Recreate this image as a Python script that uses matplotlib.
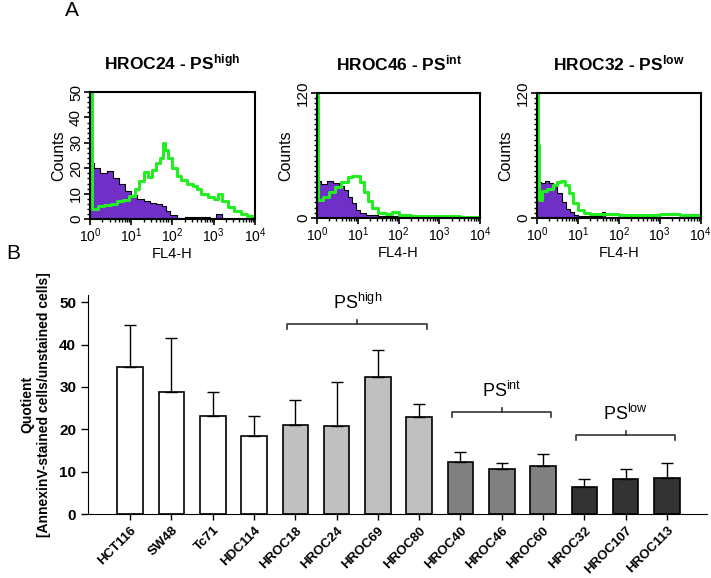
import numpy as np
import matplotlib
matplotlib.use("Agg")
import matplotlib.pyplot as plt
from matplotlib.ticker import LogLocator, MultipleLocator, NullFormatter

plt.rcParams['font.family'] = ['Liberation Sans', 'DejaVu Sans']
plt.rcParams['mathtext.fontset'] = 'custom'
plt.rcParams['mathtext.rm'] = 'Liberation Sans'
plt.rcParams['mathtext.bf'] = 'Liberation Sans:bold'
plt.rcParams['mathtext.it'] = 'Liberation Sans'

# ---- panel A: flow histograms (x in log10 decades, counts) ----
titles = [r'HROC24 - PS$^{\mathbf{high}}$', r'HROC46 - PS$^{\mathbf{int}}$', r'HROC32 - PS$^{\mathbf{low}}$']
ymax_hist = [50, 120, 120]

purple1_x = [0, 0.1, 0.25, 0.4, 0.55, 0.7, 0.85, 1.0, 1.15, 1.3, 1.45, 1.6, 1.75, 1.85, 1.95, 2.1, 2.3, 2.9, 3.05, 3.2]
purple1_y = [22, 20, 18, 19, 16, 14, 11, 9.5, 8, 7, 6.5, 6, 5, 3, 1.5, 0.5, 1, 0, 2, 0]
green1_x = [0, 0.04, 0.2, 0.35, 0.5, 0.65, 0.8, 0.95, 1.1, 1.2, 1.3, 1.4, 1.5, 1.6, 1.7, 1.76, 1.82, 1.9, 2.0,
            2.1, 2.2, 2.35, 2.5, 2.6, 2.7, 2.85, 3.0, 3.1, 3.2, 3.35, 3.5, 3.65, 3.8, 3.95, 4.0]
green1_y = [55, 4, 5, 5.5, 6, 7, 7.5, 9, 12, 15, 18.5, 16.5, 19.5, 22, 24, 30, 27, 24, 20,
            17, 15.5, 14, 13, 12, 10, 8.5, 8, 9.8, 7, 4.7, 3, 2, 1.2, 0.5, 0.5]

purple2_x = [0, 0.1, 0.25, 0.4, 0.55, 0.65, 0.75, 0.85, 0.95, 1.05, 1.2, 1.5, 1.8, 2.0, 2.1]
purple2_y = [36, 33, 36, 34, 31, 27, 20, 14, 8, 5, 3, 2, 1.5, 0.5, 0]
green2_x = [0, 0.03, 0.15, 0.3, 0.45, 0.6, 0.75, 0.85, 0.95, 1.05, 1.15, 1.25, 1.35, 1.5, 1.7,
            1.85, 2.0, 2.3, 2.6, 3.0, 3.5, 4.0]
green2_y = [125, 17, 20, 25, 30, 35, 39, 40, 40, 35, 25, 16, 10, 5, 4, 6, 3, 2, 2, 1.5, 1, 1]

purple3_x = [0, 0.1, 0.2, 0.3, 0.4, 0.5, 0.6, 0.7, 0.8, 0.9, 1.0, 1.6, 1.67, 1.75]
purple3_y = [35, 34, 36, 34, 31, 24, 15, 9, 6, 3, 1.5, 6, 0.5, 0]
green3_x = [0, 0.03, 0.06, 0.12, 0.25, 0.4, 0.5, 0.58, 0.68, 0.78, 0.88, 1.0, 1.15, 1.3, 1.6,
            2.0, 2.5, 3.0, 3.5, 4.0]
green3_y = [125, 70, 17, 26, 28, 32, 35, 36, 32, 24, 14, 8, 5, 4, 3.5, 3, 3, 3.5, 3, 3]

hist_data = [(purple1_x, purple1_y, green1_x, green1_y),
             (purple2_x, purple2_y, green2_x, green2_y),
             (purple3_x, purple3_y, green3_x, green3_y)]

# ---- panel B: bar chart ----
cell_lines = ['HCT116', 'SW48', 'Tc71', 'HDC114', 'HROC18', 'HROC24', 'HROC69', 'HROC80',
              'HROC40', 'HROC46', 'HROC60', 'HROC32', 'HROC107', 'HROC113']
quotient = [34.7, 28.8, 23.1, 18.4, 21.0, 20.7, 32.3, 22.9, 12.3, 10.6, 11.3, 6.4, 8.2, 8.5]
err_top = [44.6, 41.5, 28.8, 23.1, 26.9, 31.2, 38.7, 25.9, 14.6, 12.0, 14.1, 8.2, 10.6, 12.0]
groups = ['ref', 'ref', 'ref', 'ref', 'high', 'high', 'high', 'high',
          'int', 'int', 'int', 'low', 'low', 'low']
group_colors = {'ref': 'white', 'high': '#c0c0c0', 'int': '#808080', 'low': '#333333'}

# brackets: first bar, last bar, height, label
brackets = [(4, 7, 44.8, r'PS$^{\mathrm{high}}$'),
            (8, 10, 24.0, r'PS$^{\mathrm{int}}$'),
            (11, 13, 18.6, r'PS$^{\mathrm{low}}$')]

fig = plt.figure(figsize=(7.11, 5.78), dpi=100)

hist_pos = [[0.1266, 0.621, 0.232, 0.2197],
            [0.4459, 0.6228, 0.2293, 0.2163],
            [0.7553, 0.6228, 0.2300, 0.2163]]

for i in range(3):
    ax = fig.add_axes(hist_pos[i])
    px, py, gx, gy = hist_data[i]
    px = 10 ** np.array(px)
    gx = 10 ** np.array(gx)
    ax.fill_between(px, py, step='post', color='#7030c8', lw=0)
    ax.step(px, py, where='post', color='black', lw=0.8)
    ax.step(gx, gy, where='post', color='#22ee22', lw=2.2)
    ax.set_xscale('log')
    ax.set_xlim(1, 1e4)
    ax.set_ylim(0, ymax_hist[i])
    ax.xaxis.set_major_locator(LogLocator(base=10, numticks=10))
    ax.xaxis.set_minor_locator(LogLocator(base=10, subs=np.arange(2, 10), numticks=10))
    ax.xaxis.set_minor_formatter(NullFormatter())
    if ymax_hist[i] == 50:
        ax.set_yticks([0, 10, 20, 30, 40, 50])
        ax.yaxis.set_minor_locator(MultipleLocator(2))
    else:
        ax.set_yticks([0, 120])
        ax.yaxis.set_minor_locator(MultipleLocator(5))
    ax.tick_params(which='major', direction='out', length=4, width=1.2, labelsize=10, pad=1)
    ax.tick_params(which='minor', direction='out', length=2.5, width=1)
    for lab in ax.get_yticklabels():
        lab.set_rotation(90)
        lab.set_va('center')
        lab.set_fontsize(11)
    for sp in ax.spines.values():
        sp.set_linewidth(1.5)
    ax.set_xlabel('FL4-H', fontsize=10.5, labelpad=2)
    ax.set_ylabel('Counts', fontsize=11.5, labelpad=2)
    ax.set_title(titles[i], fontsize=12.5, fontweight='bold', pad=16)

fig.text(0.101, 0.998, 'A', fontsize=15, va='top', ha='center')
fig.text(0.018, 0.562, 'B', fontsize=15, va='center', ha='center')

ax = fig.add_axes([0.1238, 0.1107, 0.8706, 0.3789])
x = np.arange(len(cell_lines))
colors = [group_colors[g] for g in groups]
err_up = np.array(err_top) - np.array(quotient)
ax.bar(x, quotient, width=0.62, color=colors, edgecolor='black', linewidth=1.2,
       yerr=[np.zeros(len(x)), err_up], error_kw=dict(ecolor='black', elinewidth=1, capsize=4, capthick=1))
ax.set_xlim(-1.02, 13.97)
ax.set_ylim(0, 51.7)
ax.set_yticks([0, 10, 20, 30, 40, 50])
ax.set_xticks(x)
ax.set_xticklabels(cell_lines, rotation=45, ha='right', rotation_mode='anchor', fontweight='bold', fontsize=9.5)
for lab in ax.get_yticklabels():
    lab.set_fontweight('bold')
ax.tick_params(axis='y', direction='out', length=5, width=1, labelsize=11)
ax.tick_params(axis='x', direction='out', length=4, width=1)
ax.spines['top'].set_visible(False)
ax.spines['right'].set_visible(False)
ax.set_ylabel('Quotient\n[AnnexinV-stained cells/unstained cells]', fontsize=10, fontweight='bold', labelpad=6)

for b0, b1, h, label in brackets:
    xl = b0 - 0.2
    xr = b1 + 0.2
    xc = (xl + xr) / 2
    ax.plot([xl, xl, xr, xr], [h - 1.2, h, h, h - 1.2], color='#333333', lw=1.2, clip_on=False)
    ax.plot([xc, xc], [h, h + 1.0], color='#333333', lw=1.2, clip_on=False)
    ax.text(xc, h + 2.6, label, ha='center', va='bottom', fontsize=13)

fig.savefig('out.png', dpi=100)
